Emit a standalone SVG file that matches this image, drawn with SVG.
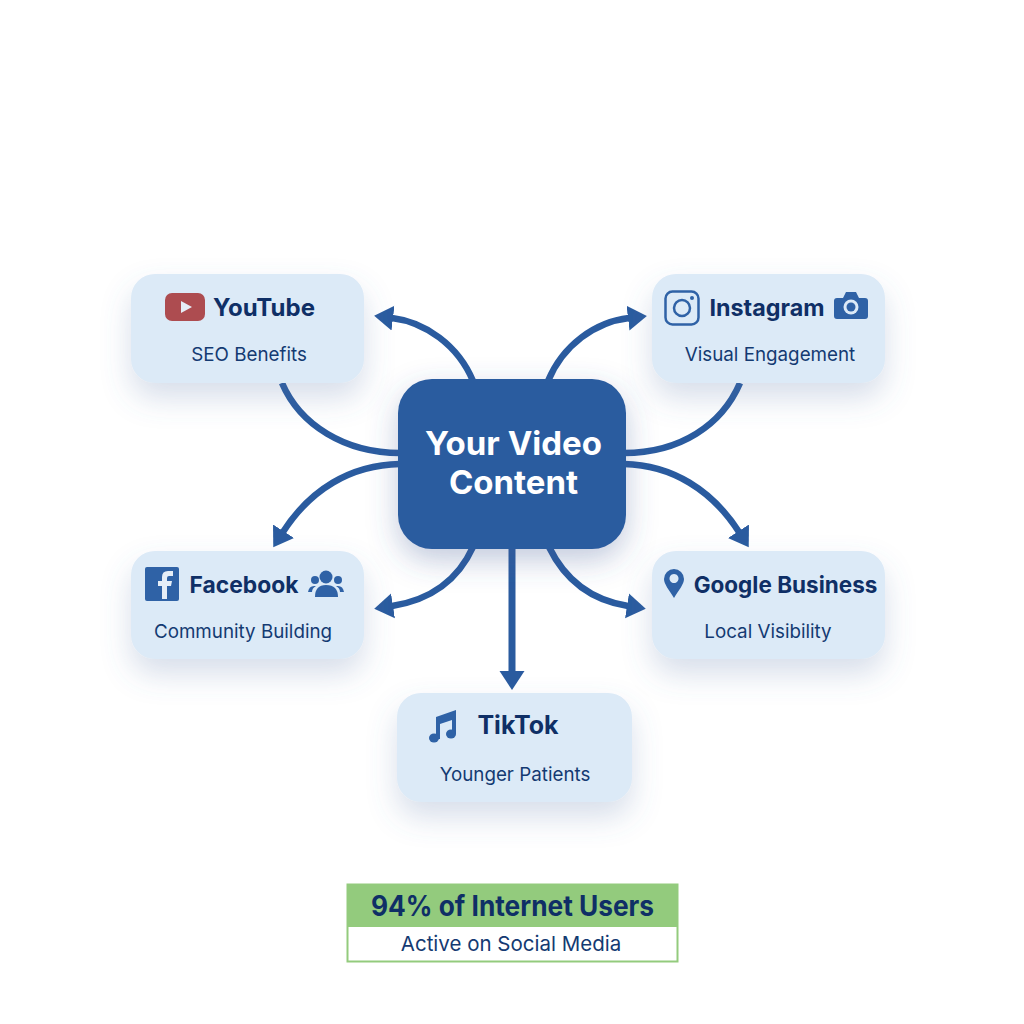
<svg xmlns="http://www.w3.org/2000/svg" width="1024" height="1024" viewBox="0 0 1024 1024">
<style>
.card{fill:#dceaf7;filter:url(#sh)}
.t{font-family:"Inter","Liberation Sans",sans-serif;font-weight:700;font-size:24px;fill:#0f2f66;text-anchor:middle}
.s{font-family:"Inter","Liberation Sans",sans-serif;font-weight:400;font-size:18.800px;fill:#143a72;text-anchor:middle}
.c{font-family:"Inter","Liberation Sans",sans-serif;font-weight:700;font-size:33px;fill:#fff;text-anchor:middle}
.l{fill:none;stroke:#2a5b9f;stroke-width:6.500}
.i{fill:#2f62a6}
</style>
<defs>
<filter id="sh" x="-30%" y="-30%" width="160%" height="200%"><feDropShadow dx="0" dy="15" stdDeviation="15" flood-color="#5a76a8" flood-opacity="0.24"/></filter>
<filter id="sc" x="-30%" y="-30%" width="160%" height="170%"><feDropShadow dx="0" dy="11" stdDeviation="15" flood-color="#3a5a94" flood-opacity="0.32"/></filter>
<marker id="ah" markerUnits="userSpaceOnUse" markerWidth="20" markerHeight="28" viewBox="0 0 20 28" refX="1" refY="14" orient="auto"><path d="M0 1.500 19 14 0 26.500Z" fill="#2a5b9f"/></marker>
</defs>
<rect width="1024" height="1024" fill="#fff"/>
<g id="connectors">
<path class="l" marker-end="url(#ah)" d="M473 381C458 345 425 322 392 318"/>
<path class="l" d="M282 383C300 425 345 453 400 453"/>
<path class="l" marker-end="url(#ah)" d="M548 381C563 345 595 322 629 318"/>
<path class="l" d="M740 383C722 425 680 453 624 453"/>
<path class="l" marker-end="url(#ah)" d="M400 464C350 465 310 490 283 532"/>
<path class="l" marker-end="url(#ah)" d="M473 547C458 580 430 600 392 606"/>
<path class="l" marker-end="url(#ah)" d="M624 464C672 465 712 490 739 532"/>
<path class="l" marker-end="url(#ah)" d="M549 547C565 580 590 600 628 606"/>
<path class="l" style="stroke-width:7" marker-end="url(#ah)" d="M512 547V672"/>
</g>
<g id="center">
<rect x="398" y="379" width="228" height="170" rx="34" fill="#2a5b9f" filter="url(#sc)"/>
<text class="c" x="513.500" y="455">Your Video</text>
<text class="c" x="513.500" y="494">Content</text>
</g>
<g id="youtube">
<rect class="card" x="131" y="274" width="233" height="109" rx="24"/>
<rect x="165" y="293" width="40" height="28" rx="7" fill="#ad4c50"/>
<path d="M181 301 192 307 181 313Z" fill="#e6eef7"/>
<text class="t" x="264" y="316">YouTube</text>
<text class="s" x="249" y="361">SEO Benefits</text>
</g>
<g id="instagram">
<rect class="card" x="652" y="274" width="233" height="109" rx="24"/>
<rect x="665.500" y="291.500" width="33" height="33" rx="7" fill="none" stroke="#2f62a6" stroke-width="2.500"/>
<circle cx="682" cy="308" r="8" fill="none" stroke="#2f62a6" stroke-width="2.500"/>
<circle cx="692" cy="298" r="2" class="i"/>
<text class="t" x="767" y="316" style="font-size:23.300px">Instagram</text>
<path class="i" d="M837 298H843L846 292H856L859 298H865Q868 298 868 301V316Q868 319 865 319H837Q834 319 834 316V301Q834 298 837 298Z"/>
<circle cx="851" cy="307" r="7.500" fill="#dceaf7"/>
<circle cx="851" cy="307" r="4.500" class="i"/>
<text class="s" x="770" y="361">Visual Engagement</text>
</g>
<g id="facebook">
<rect class="card" x="131" y="551" width="233" height="108" rx="24"/>
<rect x="145" y="567" width="34" height="34" rx="2" class="i"/>
<path d="M162 599V586H158V581H162V577Q162 571 168 571H173V576H169Q167 576 167 578V581H172L171 586H167V599Z" fill="#e6eef7"/>
<text class="t" x="244" y="593" style="font-size:22.800px">Facebook</text>
<circle cx="326" cy="577" r="6.500" class="i"/>
<circle cx="315" cy="580" r="4" class="i"/><circle cx="338" cy="580" r="4" class="i"/>
<path class="i" d="M315 597Q315 585 326 585Q338 585 338 597Z"/>
<path class="i" d="M308 592Q309 586 314 586L316 586Q312 588 312 592Z"/>
<path class="i" d="M344 592Q343 586 338 586L336 586Q340 588 340 592Z"/>
<text class="s" x="243" y="638">Community Building</text>
</g>
<g id="google">
<rect class="card" x="652" y="551" width="233" height="108" rx="24"/>
<path class="i" fill-rule="evenodd" d="M674 598C669 590 664 584 664 579A10 10 0 0 1 684 579C684 584 679 590 674 598ZM674 574A4.500 4.500 0 1 0 674.010 574Z"/>
<text class="t" x="785.500" y="593" style="font-size:22.500px">Google Business</text>
<text class="s" x="768" y="638">Local Visibility</text>
</g>
<g id="tiktok">
<rect class="card" x="397" y="693" width="235" height="109" rx="24"/>
<path class="i" d="M436 717 456 710V734H452V720L440 724V739H436Z"/>
<ellipse cx="434" cy="738" rx="5" ry="4.500" class="i"/><ellipse cx="451" cy="734" rx="5" ry="4.500" class="i"/>
<text class="t" x="518" y="734" style="font-size:25px">TikTok</text>
<text class="s" x="515" y="781">Younger Patients</text>
</g>
<g id="stat">
<rect x="347.500" y="884.500" width="330" height="77" fill="#fff" stroke="#93cb7d" stroke-width="2"/>
<rect x="347" y="884" width="331" height="43" fill="#93cb7d"/>
<text x="512.500" y="916" textLength="283" lengthAdjust="spacingAndGlyphs" style="font-family:Inter,'Liberation Sans',sans-serif;font-weight:700;font-size:28px;fill:#0f2f66;text-anchor:middle">94% of Internet Users</text>
<text x="511" y="951" style="font-family:Inter,'Liberation Sans',sans-serif;font-size:20.500px;fill:#143a72;text-anchor:middle">Active on Social Media</text>
</g>
</svg>
